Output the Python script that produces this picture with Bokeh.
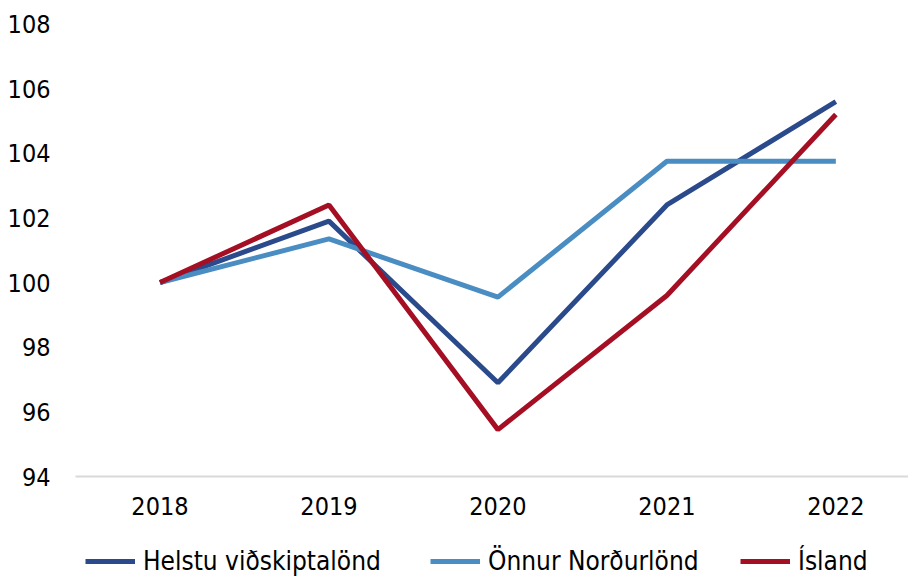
from bokeh.plotting import figure
from bokeh.layouts import column
from bokeh.models import Range1d, FixedTicker, Legend, LegendItem, ColumnDataSource
from bokeh.embed import file_html
from bokeh.resources import INLINE

years = [2018, 2019, 2020, 2021, 2022]
helstu = [100, 101.9, 96.9, 102.4, 105.6]
onnur = [100, 101.35, 99.55, 103.75, 103.75]
island = [100, 102.4, 95.45, 99.6, 105.2]
y_ticks = [94, 96, 98, 100, 102, 104, 106, 108]
names = ["Helstu viðskiptalönd", "Önnur Norðurlönd", "Ísland"]
colors = ["#2A4A8C", "#4A8DC3", "#A50F24"]

FONT = "DejaVu Sans Condensed"
FS = "25px"

src = ColumnDataSource(dict(x=years, h=helstu, o=onnur, i=island))

p = figure(width=908, height=536, output_backend="svg", toolbar_location=None,
           x_range=Range1d(2017.5, 2022.43), y_range=Range1d(94, 108.23),
           min_border_left=75, min_border_right=0, min_border_top=16, min_border_bottom=60)
p.outline_line_color = None
p.xgrid.visible = False
p.ygrid.visible = False

for col, c in zip(["h", "o", "i"], colors):
    p.line("x", col, source=src, line_color=c, line_width=5)

p.xaxis.ticker = FixedTicker(ticks=years)
p.xaxis.major_tick_line_color = None
p.xaxis.major_tick_out = 0
p.xaxis.major_tick_in = 0
p.xaxis.minor_tick_line_color = None
p.xaxis.axis_line_color = "#D9D9D9"
p.xaxis.axis_line_width = 2
p.xaxis.major_label_standoff = 20
p.xaxis.major_label_text_font = FONT
p.xaxis.major_label_text_font_size = FS
p.xaxis.major_label_text_color = "#000000"

p.yaxis.ticker = FixedTicker(ticks=y_ticks)
p.yaxis.major_tick_line_color = None
p.yaxis.major_tick_out = 0
p.yaxis.major_tick_in = 0
p.yaxis.minor_tick_line_color = None
p.yaxis.axis_line_color = None
p.yaxis.major_label_standoff = 25
p.yaxis.major_label_text_font = FONT
p.yaxis.major_label_text_font_size = FS
p.yaxis.major_label_text_color = "#000000"

# legend strip: same series, drawn outside this strip's visible range so only the legend shows
p2 = figure(width=908, height=40, output_backend="svg", toolbar_location=None,
            x_range=Range1d(2017.5, 2022.43), y_range=Range1d(0, 1),
            x_axis_location=None, y_axis_location=None,
            min_border_left=0, min_border_right=0, min_border_top=0, min_border_bottom=0)
p2.outline_line_color = None
p2.xgrid.visible = False
p2.ygrid.visible = False

positions = [10, 355, 665]
for col, c, name, xpos in zip(["h", "o", "i"], colors, names, positions):
    r = p2.line("x", col, source=src, line_color=c, line_width=5)
    lg = Legend(items=[LegendItem(label=name, renderers=[r])], location=(xpos, 0),
                orientation="horizontal", padding=0, margin=0, spacing=0,
                glyph_width=50, glyph_height=30, label_height=30, label_standoff=8,
                border_line_color=None, background_fill_alpha=0,
                label_text_font=FONT, label_text_font_size="26px", label_text_color="#000000")
    p2.add_layout(lg, "center")

layout = column(p, p2, spacing=0)
open("out.html", "w").write(file_html(layout, INLINE))
